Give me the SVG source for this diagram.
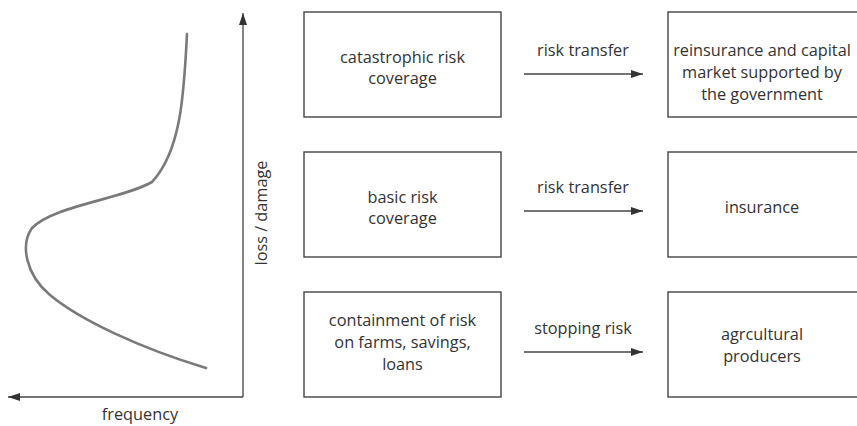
<svg xmlns="http://www.w3.org/2000/svg" width="857" height="426" viewBox="0 0 857 426">
<style>
text{font-family:"Open Sans","Liberation Sans",sans-serif;font-size:16.3px;fill:#333;text-anchor:middle}
.box{fill:#fff;stroke:#444;stroke-width:1.4}
.ln{stroke:#444;stroke-width:1.3;fill:none}
.curve{stroke:#7a7a7a;stroke-width:2.6;fill:none;stroke-linecap:round}
</style>
<defs>
<marker id="ah" viewBox="0 0 12 8" refX="12" refY="4" markerWidth="12" markerHeight="8" markerUnits="userSpaceOnUse" orient="auto">
<path d="M0,0 L12,4 L0,8 z" fill="#333"/>
</marker>
</defs>
<rect width="857" height="426" fill="#fff"/>
<g id="chart">
<path class="ln" d="M243,397 V13" marker-end="url(#ah)"/>
<path class="ln" d="M243,397 H8" marker-end="url(#ah)"/>
<path class="curve" d="M187,34 C184,90 182,150 152,182 C120,200 55,205 32,228 C20,245 26,275 50,295 C80,320 140,348 206,368"/>
<text transform="translate(267,213) rotate(-90)">loss / damage</text>
<text x="140" y="420">frequency</text>
</g>
<g id="connectors">
<path class="ln" d="M524,74 H643" marker-end="url(#ah)"/>
<path class="ln" d="M524,211 H643" marker-end="url(#ah)"/>
<path class="ln" d="M524,352 H643" marker-end="url(#ah)"/>
<text x="583" y="56">risk transfer</text>
<text x="583" y="193">risk transfer</text>
<text x="583" y="334">stopping risk</text>
</g>
<g id="n1"><rect class="box" x="304" y="12" width="197" height="105"/>
<text x="402.5" y="63">catastrophic risk</text><text x="402.5" y="84">coverage</text></g>
<g id="n2"><rect class="box" x="668" y="12" width="192" height="105"/>
<text x="762" y="56">reinsurance and capital</text><text x="762" y="78">market supported by</text><text x="762" y="100">the government</text></g>
<g id="n3"><rect class="box" x="304" y="152" width="197" height="105"/>
<text x="402.5" y="203">basic risk</text><text x="402.5" y="224">coverage</text></g>
<g id="n4"><rect class="box" x="668" y="152" width="192" height="105"/>
<text x="762" y="213">insurance</text></g>
<g id="n5"><rect class="box" x="304" y="292" width="197" height="105"/>
<text x="402.5" y="326">containment of risk</text><text x="402.5" y="348">on farms, savings,</text><text x="402.5" y="370">loans</text></g>
<g id="n6"><rect class="box" x="668" y="292" width="192" height="105"/>
<text x="762" y="340">agrcultural</text><text x="762" y="362">producers</text></g>
</svg>
